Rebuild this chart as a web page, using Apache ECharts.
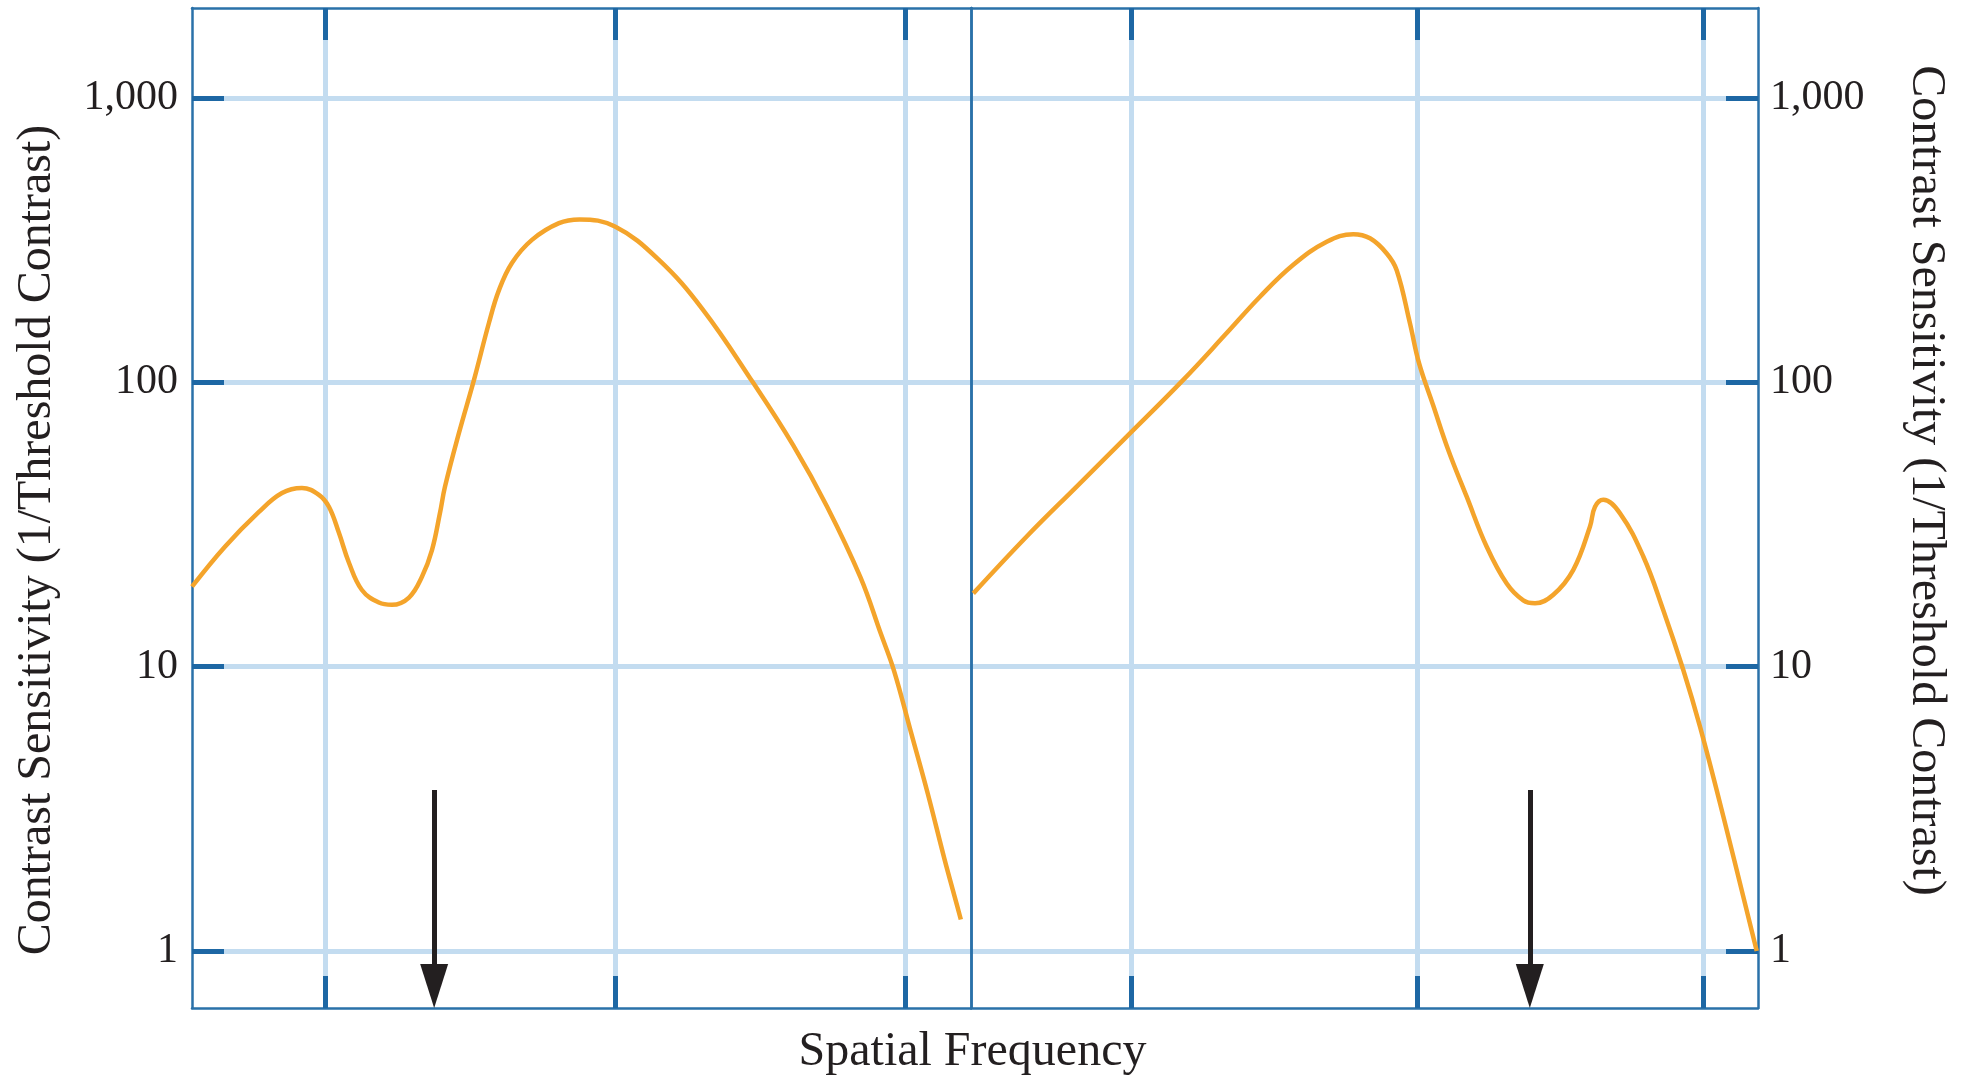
<!DOCTYPE html>
<html>
<head>
<meta charset="utf-8">
<script src="https://cdn.jsdelivr.net/npm/echarts@6/dist/echarts.min.js"></script>
<style>
html,body{margin:0;padding:0;background:#fff;}
#chart{width:1965px;height:1079px;}
</style>
</head>
<body>
<div id="chart"></div>
<script>
// ---- data ----
const leftFreq = [0.348, 0.452, 0.592, 0.711, 0.833, 0.953, 1.032, 1.118, 1.21, 1.341, 1.535, 1.702, 1.949, 2.16, 2.339, 2.492, 2.593, 2.898, 3.265, 3.678, 3.981, 4.413, 5.173, 6.411, 7.556, 10, 14.15, 20.03, 29.89, 41.19, 53.83, 70.24, 82.46, 91.79, 104.9, 119.8, 136.9, 148.4, 155.8];
const leftSens = [19.1, 26.4, 35.0, 40.8, 42.5, 40.2, 36.5, 29.5, 23.2, 18.6, 16.8, 16.5, 17.5, 20.7, 25.7, 34.7, 42.9, 66.4, 102, 162, 211, 263, 317, 363, 374, 353, 270, 181, 100, 60.0, 36.6, 20.6, 13.1, 9.63, 5.87, 3.58, 2.10, 1.55, 1.29];

const rightFreq = [0.281, 0.4318, 0.6457, 0.966, 1.523, 2.161, 2.825, 3.694, 4.835, 5.988, 6.85, 7.838, 8.492, 9.452, 10.16, 11.38, 12.87, 14.92, 17.53, 20.59, 23.53, 25.86, 29.97, 35.2, 40.26, 41.92, 44.81, 51.27, 61.84, 72.64, 85.33, 97.61, 117.8, 154.1];
const rightSens = [18.1, 28.7, 43.0, 64.4, 102, 149, 200, 259, 312, 332, 321, 284, 248, 161, 117, 83.2, 57.7, 39.6, 26.4, 19.6, 17.1, 16.7, 17.9, 21.9, 31.1, 36.5, 38.6, 34.6, 24.4, 15.8, 9.73, 6.15, 2.97, 1.0];

const yTicks = [1, 10, 100, 1000];
const xTicks = [1, 10, 100];

const arrowFreqLeft = 2.38;
const arrowFreqRight = 24.8;
const arrowTop = 3.68;
const arrowTip = 0.753;

const yMin = 0.63, yMax = 2073;
const leftXMin = 0.348, leftXMax = 168.9;
const rightXMin = 0.2758, rightXMax = 155.7;

const yName = 'Contrast Sensitivity (1/Threshold Contrast)';
const xName = 'Spatial Frequency';

// ---- styles ----
const FRAME = '#2a71a9';
const TICK = '#1d67a4';
const GRID = '#c3dcf0';
const CURVE = '#f4a42b';
const INK = '#231f20';
const FONT = 'Liberation Serif';

const fmt = v => {
  const n = Math.round(v);
  return String(n).replace(/\B(?=(\d{3})+(?!\d))/g, ',');
};

function xAxisDef(grid, pos, min, max, withGrid) {
  return {
    type: 'log', logBase: 10, gridIndex: grid, position: pos, min: min, max: max,
    axisLine: { show: true, onZero: false, lineStyle: { color: FRAME, width: 2.5 } },
    axisTick: { show: true, inside: true, length: 32, customValues: xTicks, lineStyle: { color: TICK, width: 5 } },
    axisLabel: { show: false },
    splitLine: { show: withGrid, lineStyle: { color: GRID, width: 5 } }
  };
}

function yAxisMain(grid, pos, margin) {
  return {
    type: 'log', logBase: 10, gridIndex: grid, position: pos, min: yMin, max: yMax,
    axisLine: { show: true, onZero: false, lineStyle: { color: FRAME, width: 2.5 } },
    axisTick: { show: true, inside: true, length: 32, customValues: yTicks, lineStyle: { color: TICK, width: 5 } },
    axisLabel: { show: true, customValues: yTicks, margin: margin, formatter: fmt, color: INK, fontFamily: FONT, fontSize: 42 },
    splitLine: { show: true, lineStyle: { color: GRID, width: 5 } }
  };
}

function yAxisDivider(grid, pos) {
  return {
    type: 'log', logBase: 10, gridIndex: grid, position: pos, min: yMin, max: yMax,
    axisLine: { show: true, onZero: false, lineStyle: { color: FRAME, width: 2.5 } },
    axisTick: { show: false }, axisLabel: { show: false }, splitLine: { show: false }
  };
}

function arrowMark(freq) {
  return {
    silent: true, animation: false,
    label: { show: false },
    lineStyle: { color: INK, width: 5, type: 'solid' },
    emphasis: { disabled: true },
    data: [[
      { coord: [freq, arrowTop], symbol: 'none' },
      { coord: [freq, arrowTip], symbol: 'triangle', symbolSize: [28, 44] }
    ]]
  };
}

const textFont = '48px "Liberation Serif"';

const chart = echarts.init(document.getElementById('chart'), null, { renderer: 'canvas' });
chart.setOption({
  animation: false,
  backgroundColor: '#ffffff',
  grid: [
    { left: 192, right: 994, top: 8, bottom: 71 },
    { left: 971, right: 207, top: 8, bottom: 71 }
  ],
  xAxis: [
    xAxisDef(0, 'bottom', leftXMin, leftXMax, true),
    xAxisDef(0, 'top', leftXMin, leftXMax, false),
    xAxisDef(1, 'bottom', rightXMin, rightXMax, true),
    xAxisDef(1, 'top', rightXMin, rightXMax, false)
  ],
  yAxis: [
    yAxisMain(0, 'left', 14),
    yAxisDivider(0, 'right'),
    yAxisDivider(1, 'left'),
    yAxisMain(1, 'right', 12)
  ],
  graphic: [
    { type: 'text', x: 972.5, y: 1052.5, silent: true,
      style: { text: xName, fill: INK, font: textFont, textAlign: 'center', textVerticalAlign: 'middle' } },
    { type: 'text', x: 37, y: 540, rotation: Math.PI / 2, silent: true,
      style: { text: yName, fill: INK, font: textFont, textAlign: 'center', textVerticalAlign: 'middle' } },
    { type: 'text', x: 1925.5, y: 480.5, rotation: -Math.PI / 2, silent: true,
      style: { text: yName, fill: INK, font: textFont, textAlign: 'center', textVerticalAlign: 'middle' } }
  ],
  series: [
    {
      type: 'line', xAxisIndex: 0, yAxisIndex: 0, smooth: 0.4, symbol: 'none',
      lineStyle: { color: CURVE, width: 4.5 },
      data: leftFreq.map((f, i) => [f, leftSens[i]]),
      markLine: arrowMark(arrowFreqLeft)
    },
    {
      type: 'line', xAxisIndex: 2, yAxisIndex: 3, smooth: 0.4, symbol: 'none',
      lineStyle: { color: CURVE, width: 4.5 },
      data: rightFreq.map((f, i) => [f, rightSens[i]]),
      markLine: arrowMark(arrowFreqRight)
    }
  ]
});
</script>
</body>
</html>
